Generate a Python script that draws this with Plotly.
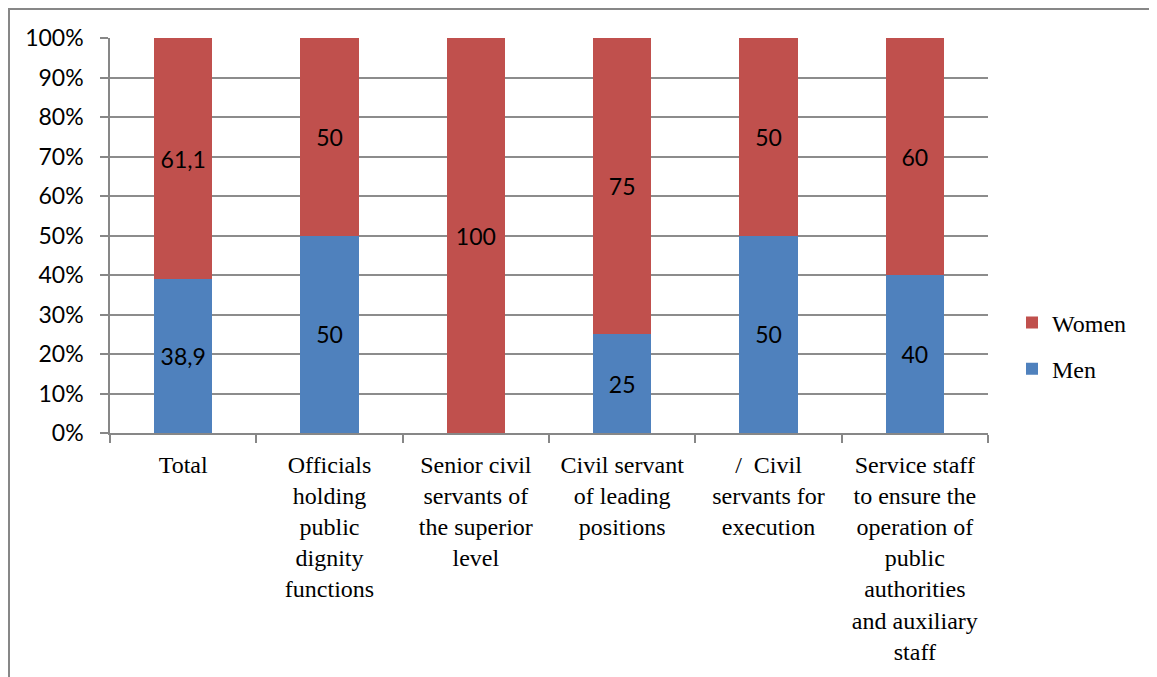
import plotly.graph_objects as go

categories = [
    "Total",
    "Officials<br>holding<br>public<br>dignity<br>functions",
    "Senior civil<br>servants of<br>the superior<br>level",
    "Civil servant<br>of leading<br>positions",
    "/  Civil<br>servants for<br>execution",
    "Service staff<br>to ensure the<br>operation of<br>public<br>authorities<br>and auxiliary<br>staff",
]
men_values = [38.9, 50, 0, 25, 50, 40]
women_values = [61.1, 50, 100, 75, 50, 60]
men_labels = ["38,9", "50", "", "25", "50", "40"]
women_labels = ["61,1", "50", "100", "75", "50", "60"]
y_tickvals = [0, 10, 20, 30, 40, 50, 60, 70, 80, 90, 100]
y_ticktext = [f"{v}%" for v in y_tickvals]

OFF = 8  # page body margin
W, H = 1157 - OFF, 677 - OFF
L, R, T, B = 110 - OFF, 988 - OFF, 38 - OFF, 433 - OFF  # plot area in figure pixels

SANS = "Lato, Liberation Sans, sans-serif"
SERIF = "Liberation Serif, Times New Roman, serif"

fig = go.Figure()
fig.add_trace(go.Bar(
    name="Men", x=categories, y=men_values, text=men_labels,
    legendgroup="men", legendrank=2,
    marker=dict(color="#4F81BD", line=dict(width=0)),
    textposition="inside", insidetextanchor="middle",
    textfont=dict(family=SANS, size=23, color="black"),
    width=0.4,
))
fig.add_trace(go.Bar(
    name="Women", x=categories, y=women_values, text=women_labels,
    legendgroup="women", legendrank=1,
    marker=dict(color="#C0504D", line=dict(width=0)),
    textposition="inside", insidetextanchor="middle",
    textfont=dict(family=SANS, size=23, color="black"),
    width=0.4,
))

pw, ph = R - L, B - T
fig.update_layout(
    width=W, height=H,
    barmode="stack",
    margin=dict(l=L, r=W - R, t=T, b=H - B, autoexpand=False),
    plot_bgcolor="white", paper_bgcolor="white",
    showlegend=True,
    legend=dict(
        x=(1012 - OFF - L) / pw, y=(B - (346 - OFF)) / ph, xanchor="left", yanchor="middle",
        traceorder="grouped",
        font=dict(family=SERIF, size=24, color="black"),
        itemwidth=30, tracegroupgap=12,
    ),
    xaxis=dict(
        type="category",
        showline=True, linecolor="#878787", linewidth=1.5,
        ticks="outside", tickson="boundaries", ticklen=8, tickcolor="#878787", tickwidth=1.5,
        tickfont=dict(family=SERIF, size=24, color="black"),
        ticklabelstandoff=9,
        showgrid=False, tickangle=0,
    ),
    yaxis=dict(
        range=[0, 100], tickvals=y_tickvals, ticktext=y_ticktext,
        showline=True, linecolor="#878787", linewidth=1.5,
        ticks="outside", ticklen=8, tickcolor="#878787", tickwidth=1.5,
        showgrid=True, gridcolor="#8c8c8c", gridwidth=1.5,
        tickfont=dict(family=SANS, size=23, color="black"),
        ticklabelstandoff=12,
        zeroline=False,
    ),
    shapes=[dict(
        type="rect", xref="paper", yref="paper",
        x0=(1 - L) / pw, x1=(W + 20 - L) / pw,
        y0=(B - (H + 20)) / ph, y1=(B - 1) / ph,
        line=dict(color="#878787", width=2), fillcolor="rgba(0,0,0,0)", layer="below",
    )],
)

fig.write_html("out.html")
